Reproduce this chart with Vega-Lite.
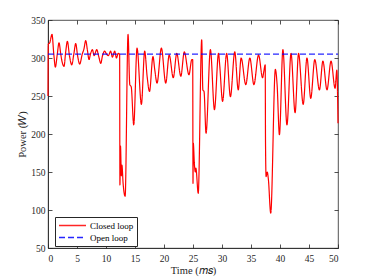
{
  "$schema": "https://vega.github.io/schema/vega-lite/v6.json",
  "autosize": {"type": "none"},
  "padding": {"left": 48, "top": 20, "right": 36, "bottom": 32},
  "width": 290,
  "height": 228,
  "background": "white",
  "datasets": {
    "closed": [
      {"t":0,"p":250},{"t":0.05,"p":318},{"t":0.3,"p":320},{"t":0.69,"p":331},{"t":1.0,"p":305},{"t":1.27,"p":288},{"t":1.6,"p":305},{"t":1.9,"p":320},{"t":2.2,"p":305},{"t":2.4,"p":296},{"t":2.76,"p":289},{"t":3.05,"p":308},{"t":3.34,"p":322},{"t":3.7,"p":303},{"t":4.09,"p":291},{"t":4.45,"p":305},{"t":4.78,"p":319},{"t":5.1,"p":303},{"t":5.47,"p":292},{"t":5.9,"p":305},{"t":6.2,"p":312},{"t":6.5,"p":323},{"t":6.8,"p":310},{"t":7.07,"p":298},{"t":7.35,"p":306},{"t":7.66,"p":311},{"t":7.95,"p":303},{"t":8.4,"p":311},{"t":8.75,"p":302},{"t":9.1,"p":293},{"t":9.4,"p":303},{"t":9.77,"p":309},{"t":10.1,"p":305},{"t":10.4,"p":303},{"t":10.8,"p":309},{"t":11.1,"p":301},{"t":11.5,"p":309},{"t":11.8,"p":300},{"t":12.1,"p":306},{"t":12.35,"p":305},
      {"t":12.4,"p":133},{"t":12.5,"p":184},{"t":12.65,"p":145},{"t":12.75,"p":159},{"t":12.95,"p":135},{"t":13.3,"p":118},{"t":13.8,"p":331},{"t":14.1,"p":265},{"t":14.35,"p":262},{"t":14.78,"p":212},{"t":15.35,"p":313},{"t":16.1,"p":239},{"t":16.67,"p":309},{"t":17.1,"p":275},{"t":17.5,"p":256},{"t":18.1,"p":302},{"t":18.4,"p":285},{"t":18.8,"p":267},{"t":19.55,"p":313},{"t":20.3,"p":267},{"t":20.9,"p":304},{"t":21.6,"p":274},{"t":22.2,"p":306},{"t":22.9,"p":276},{"t":23.5,"p":308},{"t":24.3,"p":278},{"t":24.8,"p":298},{"t":24.95,"p":298},
      {"t":25.0,"p":135},{"t":25.05,"p":188},{"t":25.25,"p":159},{"t":25.4,"p":150},{"t":25.5,"p":155},{"t":25.9,"p":122},{"t":26.5,"p":324},{"t":26.7,"p":258},{"t":26.9,"p":256},{"t":27.25,"p":201},{"t":28.0,"p":311},{"t":28.7,"p":232},{"t":29.4,"p":306},{"t":29.6,"p":291},{"t":30.1,"p":243},{"t":30.8,"p":306},{"t":31.45,"p":249},{"t":32.2,"p":308},{"t":32.8,"p":258},{"t":33.3,"p":300},{"t":34.1,"p":265},{"t":34.8,"p":300},{"t":35.5,"p":265},{"t":36.3,"p":304},{"t":37.0,"p":274},{"t":37.2,"p":282},{"t":37.45,"p":291},
      {"t":37.5,"p":192},{"t":37.6,"p":144},{"t":37.8,"p":150},{"t":38.0,"p":140},{"t":38.4,"p":96},{"t":39.2,"p":285},{"t":39.5,"p":265},{"t":39.9,"p":199},{"t":40.5,"p":311},{"t":41.2,"p":212},{"t":41.9,"p":306},{"t":42.6,"p":228},{"t":43.2,"p":306},{"t":44.0,"p":239},{"t":44.65,"p":300},{"t":45.3,"p":247},{"t":46.0,"p":298},{"t":46.8,"p":258},{"t":47.4,"p":296},{"t":48.1,"p":258},{"t":48.8,"p":296},{"t":49.5,"p":260},{"t":49.8,"p":284},{"t":50,"p":214}
    ],
    "open": [{"t":0,"p":305},{"t":50,"p":305}]
  },
  "config": {
    "view": {"stroke": "#262626", "strokeWidth": 0.8},
    "font": "Liberation Serif",
    "axis": {
      "domainColor": "#262626", "tickColor": "#262626", "labelColor": "#262626", "titleColor": "#262626",
      "labelFont": "Liberation Serif", "titleFont": "Liberation Serif", "labelFontSize": 9.5, "titleFontSize": 10.5,
      "titleFontWeight": "normal", "grid": false, "tickSize": -4, "domainWidth": 0.8, "tickWidth": 0.8
    },
    "legend": {
      "orient": "none", "legendX": 7, "legendY": 197, "strokeColor": "#262626", "fillColor": "white",
      "padding": 3, "labelFont": "Liberation Serif", "labelFontSize": 9, "labelColor": "#000000",
      "symbolType": "M-1,0H5", "symbolSize": 81, "symbolStrokeWidth": 1.3, "rowPadding": 1, "labelOffset": 21
    }
  },
  "layer": [
    {
      "data": {"name": "closed"},
      "mark": {"type": "line", "strokeWidth": 1.2, "color": "#ff0000", "interpolate": "monotone"},
      "encoding": {
        "x": {"field": "t", "type": "quantitative", "scale": {"domain": [0, 50], "nice": false},
              "axis": {"values": [0,5,10,15,20,25,30,35,40,45,50], "title": "Time (𝑚𝑠)", "labelPadding": 9, "titlePadding": 3, "orient": "bottom"}},
        "y": {"field": "p", "type": "quantitative", "scale": {"domain": [50, 350], "nice": false},
              "axis": {"values": [50,100,150,200,250,300,350], "title": "Power (𝑊)", "labelPadding": 7, "titlePadding": 3, "orient": "left"}},
        "color": {"datum": "Closed loop", "type": "nominal", "scale": {"domain": ["Closed loop", "Open loop"], "range": ["#ff0000", "#0000ff"]}, "legend": {"title": null}},
        "strokeDash": {"datum": "Closed loop", "type": "nominal", "scale": {"domain": ["Closed loop", "Open loop"], "range": [[1,0],[6,3]]}, "legend": {"title": null}}
      }
    },
    {
      "data": {"name": "open"},
      "mark": {"type": "line", "strokeWidth": 1.2, "opacity": 0.85},
      "encoding": {
        "x": {"field": "t", "type": "quantitative", "axis": {"orient": "top", "labels": false, "title": null, "values": [0,5,10,15,20,25,30,35,40,45,50], "domain": false}},
        "y": {"field": "p", "type": "quantitative", "axis": {"orient": "right", "labels": false, "title": null, "values": [50,100,150,200,250,300,350], "domain": false}},
        "color": {"datum": "Open loop", "type": "nominal"},
        "strokeDash": {"datum": "Open loop", "type": "nominal"}
      }
    }
  ],
  "resolve": {"axis": {"x": "independent", "y": "independent"}}
}
